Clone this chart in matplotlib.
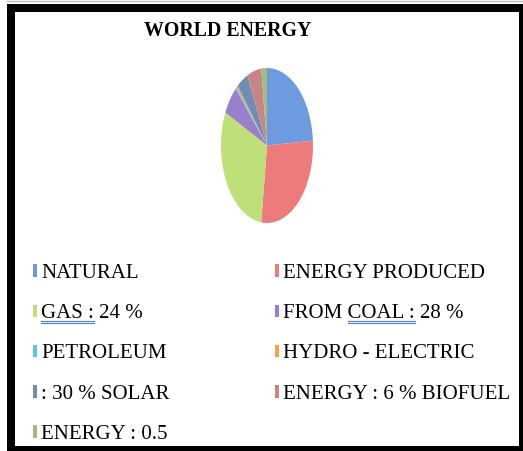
import matplotlib.pyplot as plt
from matplotlib.patches import Rectangle
from matplotlib.lines import Line2D

# -------------------------
# dados
# -------------------------
labels = ["NATURAL", "ENERGY PRODUCED", "GAS : 24 %", "FROM COAL : 28 %",
          "PETROLEUM", "HYDRO - ELECTRIC", ": 30 % SOLAR",
          "ENERGY : 6 % BIOFUEL", "ENERGY : 0.5"]
values = [24, 28, 30, 6, 0.5, 0.5, 4, 5, 2]
colors = ["#6E9BE0", "#EE7B7B", "#BFDF7A", "#9A7FCB", "#5BC8E0",
          "#F9A050", "#6F8DB5", "#C78585", "#9EBE7E"]
# trechos sublinhados (corretor ortografico) no original
underlined = {"GAS : 24 %": "GAS :", "FROM COAL : 28 %": "COAL :"}

W, H = 523, 451
fig = plt.figure(figsize=(W / 100, H / 100), dpi=100)
font = dict(family="Liberation Serif", size=15)

# -------------------------
# pizza (eliptica, como no original)
# -------------------------
ax = fig.add_axes([221 / W, 1 - 223 / H, 92 / W, 155 / H])
wedges, _ = ax.pie(values, colors=colors, startangle=90, counterclock=False,
                   wedgeprops=dict(linewidth=0))
ax.set_aspect("auto")
ax.set_xlim(-1, 1)
ax.set_ylim(-1, 1)

fig.text(228 / W, 1 - 31 / H, "WORLD ENERGY", ha="center", va="center",
         fontsize=14.3, fontweight="bold", family="Liberation Serif")

# legenda em duas colunas (ordem por linha)
order = [0, 2, 4, 6, 8, 1, 3, 5, 7]
leg = fig.legend([wedges[i] for i in order], [labels[i] for i in order],
                 ncol=2, loc="upper left", bbox_to_anchor=(33 / W, 1 - 264 / H),
                 frameon=False, prop=font,
                 handlelength=0.2, handleheight=0.55, handletextpad=0.2,
                 labelspacing=1.02, columnspacing=5.05, borderpad=0, borderaxespad=0)

# sublinhado azul duplo
fig.canvas.draw()
r = fig.canvas.get_renderer()
for t in leg.get_texts():
    s = t.get_text()
    if s not in underlined:
        continue
    sub = underlined[s]
    bb = t.get_window_extent(r)
    i0 = s.index(sub)
    tmp = fig.text(0, 0, s[:i0], fontproperties=t.get_fontproperties())
    x0 = bb.x0 + (tmp.get_window_extent(r).width if i0 else 0)
    tmp.set_text(sub)
    x1 = x0 + tmp.get_window_extent(r).width
    tmp.remove()
    for dy in (0.5, 2.5):
        y = bb.y0 - dy + 3
        fig.add_artist(Line2D([x0 / W, x1 / W], [y / H, y / H],
                              transform=fig.transFigure, color="#4A7FE0", lw=0.8))

# moldura preta
def px_rect(x0, y0, w, h):
    fig.add_artist(Rectangle((x0 / W, 1 - (y0 + h) / H), w / W, h / H,
                             transform=fig.transFigure, color="black", lw=0))

px_rect(7, 4, W - 7, 8)       # topo
px_rect(7, 4, 8, H - 4)       # esquerda
px_rect(W - 4, 4, 4, H - 4)   # direita
px_rect(7, H - 5, W - 7, 5)   # base
fig.add_artist(Line2D([7 / W, 1], [1 - 1 / H, 1 - 1 / H], transform=fig.transFigure,
                      color="#bbbbbb", lw=1))

fig.savefig("out.png", dpi=100)
